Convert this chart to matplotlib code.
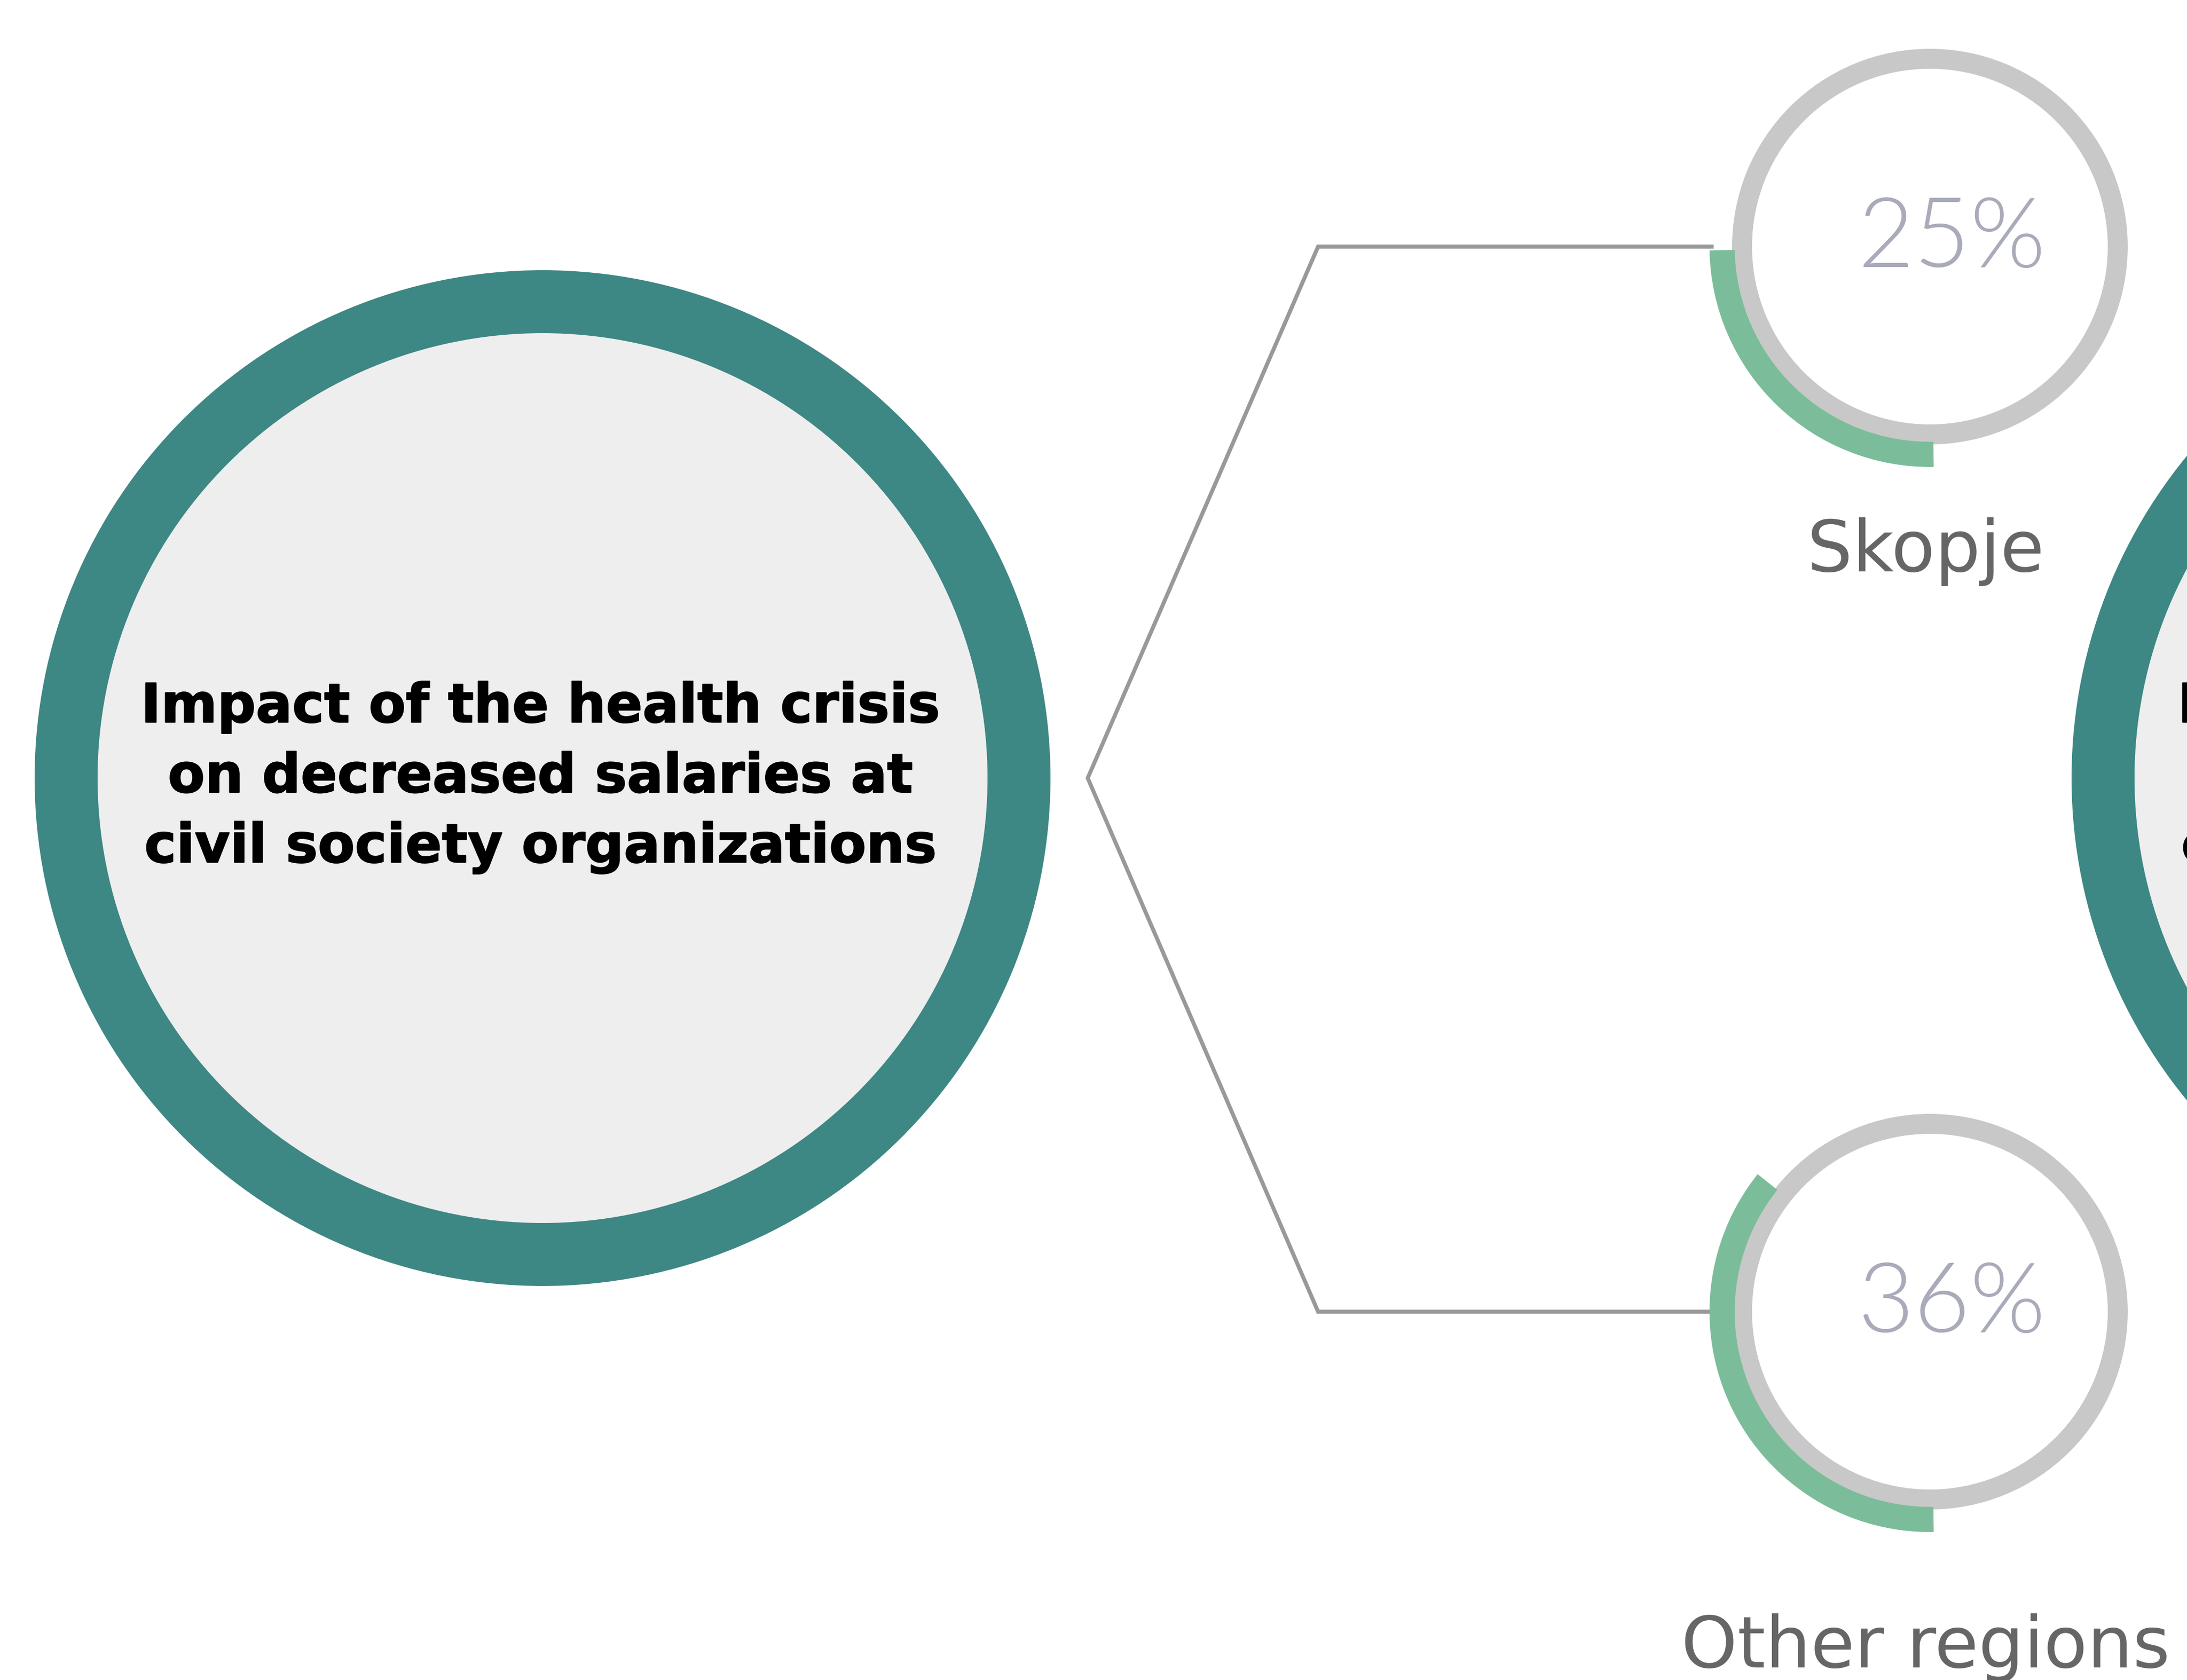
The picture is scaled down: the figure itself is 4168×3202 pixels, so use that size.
import matplotlib
matplotlib.use('Agg')
import matplotlib.pyplot as plt
import matplotlib.patheffects as pe
from matplotlib.patches import Circle, Wedge

# data
regions = ["Skopje", "Other regions"]
shares = [25, 36]  # % of CSOs reporting decreased salaries
title_lines = ["Impact of the health crisis",
               "on decreased salaries at",
               "civil society organizations"]

# colours
TEAL = "#3D8784"
FILL = "#EEEEEE"
GREEN = "#7BBD9A"
RING = "#C8C8C8"
LINE = "#999999"
PCT = "#A9ABBA"
LABEL = "#666666"

W, H = 4168, 3202
fig = plt.figure(figsize=(W / 100, H / 100), dpi=100)
ax = fig.add_axes([0, 0, 1, 1])
ax.set_xlim(0, W)
ax.set_ylim(0, H)
ax.axis('off')

# layout (pixel units, y up)
big_r, big_w = 968, 120
big_centers = [(1034, 1719), (4916, 1719)]
small_x = 3678
small_y = [2732, 702]
ring_r, ring_w = 377, 38
arc_r, arc_w = 420, 48
arc_end = 271
label_dy = [619, 678]

# big title circles
heavy = [pe.withStroke(linewidth=1.5, foreground='black')]
for cx, cy in big_centers:
    ax.add_patch(Circle((cx, cy), big_r, color=TEAL, lw=0))
    ax.add_patch(Circle((cx, cy), big_r - big_w, color=FILL, lw=0))
    for i, line in enumerate(title_lines):
        ax.text(cx - 4, cy - 27 - (i - 1) * 133.5, line, ha='center', va='baseline',
                fontsize=74, fontweight='bold', family='DejaVu Sans', color='black',
                path_effects=heavy)

# connector bracket
apex_x = big_centers[0][0] + big_r + 71
corner_x = 2512
ax.plot([small_x - arc_r + 4, corner_x, apex_x, corner_x, small_x - arc_r + 4],
        [small_y[0], small_y[0], big_centers[0][1], small_y[1], small_y[1]],
        color=LINE, lw=5.5, solid_joinstyle='miter', zorder=1)

# region gauges
for name, val, cy, dy in zip(regions, shares, small_y, label_dy):
    ax.add_patch(Circle((small_x, cy), ring_r - ring_w, color='white', lw=0, zorder=2))
    ax.add_patch(Wedge((small_x, cy), ring_r, 0, 360, width=ring_w, color=RING, lw=0, zorder=2))
    ax.add_patch(Wedge((small_x, cy), arc_r, arc_end - 360 * val / 100, arc_end,
                       width=arc_w, color=GREEN, lw=0, zorder=3))
    ax.text(small_x + 42, cy - 39, f"{val}%", ha='center', va='baseline',
            fontsize=133, family='Lato', fontweight=300, color=PCT, zorder=4)
    ax.text(small_x - 8, cy - dy, name, ha='center', va='baseline',
            fontsize=98, family='DejaVu Sans', color=LABEL, zorder=4)

fig.savefig("out.png", dpi=100, facecolor='white')
plt.close(fig)
